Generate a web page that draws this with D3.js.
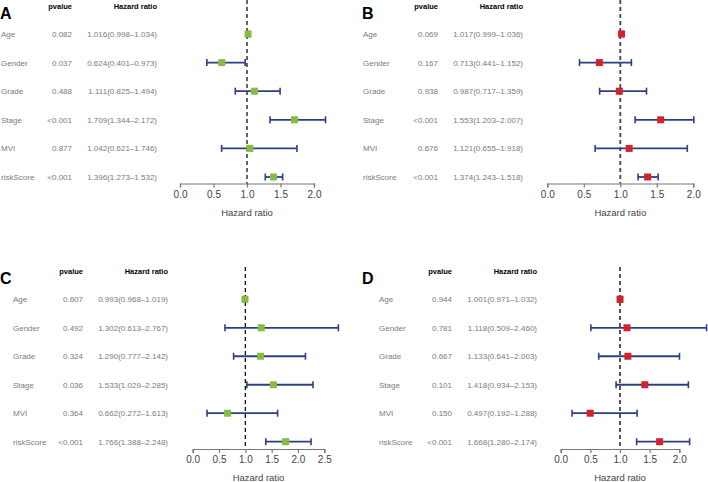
<!DOCTYPE html>
<html><head><meta charset="utf-8">
<script src="https://cdn.jsdelivr.net/npm/d3@7"></script>
<style>body{margin:0;background:#fff}svg{display:block}text{font-family:"Liberation Sans",Arial,Helvetica,sans-serif}</style>
</head><body>
<script>
const categories = ["Age","Gender","Grade","Stage","MVI","riskScore"];

const pA = ["0.082","0.037","0.488","<0.001","0.877","<0.001"];
const hrA = [1.016,0.624,1.111,1.709,1.042,1.396];
const loA = [0.998,0.401,0.825,1.344,0.621,1.273];
const hiA = [1.034,0.973,1.494,2.172,1.746,1.532];

const pB = ["0.069","0.167","0.938","<0.001","0.676","<0.001"];
const hrB = [1.017,0.713,0.987,1.553,1.121,1.374];
const loB = [0.999,0.441,0.717,1.203,0.655,1.243];
const hiB = [1.036,1.152,1.359,2.007,1.918,1.518];

const pC = ["0.607","0.492","0.324","0.036","0.364","<0.001"];
const hrC = [0.993,1.302,1.290,1.533,0.662,1.766];
const loC = [0.968,0.613,0.777,1.029,0.272,1.388];
const hiC = [1.019,2.767,2.142,2.285,1.613,2.248];

const pD = ["0.944","0.781","0.667","0.101","0.150","<0.001"];
const hrD = [1.001,1.118,1.133,1.418,0.497,1.668];
const loD = [0.971,0.509,0.641,0.934,0.192,1.280];
const hiD = [1.032,2.460,2.003,2.153,1.288,2.174];

const ticksAB = [0,0.5,1,1.5,2];
const ticksC = [0,0.5,1,1.5,2,2.5];

const panels = [
  {letter:"A", p:pA, hr:hrA, lo:loA, hi:hiA, color:"#86bd40", dash:"#111", dmax:2, ticks:ticksAB,
   labX:1, pvR:72, hrR:157, headY:9, rowTop:34, rowBot:177, axY:183.5, x0:180, x1:314, lineTop:0},
  {letter:"B", p:pB, hr:hrB, lo:loB, hi:hiB, color:"#d2232a", dash:"#444", dmax:2, ticks:ticksAB,
   labX:363, pvR:438, hrR:523, headY:9, rowTop:34, rowBot:177, axY:183.5, x0:547.3, x1:693.3, lineTop:0},
  {letter:"C", p:pC, hr:hrC, lo:loC, hi:hiC, color:"#86bd40", dash:"#111", dmax:2.5, ticks:ticksC,
   labX:13, pvR:83, hrR:168, headY:274, rowTop:299.3, rowBot:441.7, axY:449, x0:192.7, x1:324.3, lineTop:267},
  {letter:"D", p:pD, hr:hrD, lo:loD, hi:hiD, color:"#d2232a", dash:"#444", dmax:2, ticks:ticksAB,
   labX:379, pvR:452, hrR:537, headY:274, rowTop:299.3, rowBot:441.7, axY:449, x0:560.7, x1:679.3, lineTop:267}
];

const svg = d3.select("body").append("svg").attr("width",708).attr("height",482);
const txtCol = "#7a7a7a";

panels.forEach(P => {
  const g = svg.append("g");
  const x = d3.scaleLinear().domain([0,P.dmax]).range([P.x0,P.x1]);
  const y = d3.scalePoint().domain(categories).range([P.rowTop,P.rowBot]);
  const letterX = P.letter==="A"||P.letter==="C" ? 0 : 362;
  g.append("text").attr("x",letterX).attr("y",P.headY+10).attr("font-size",16).attr("font-weight","bold").text(P.letter);
  g.append("text").attr("x",P.pvR).attr("y",P.headY).attr("text-anchor","end").attr("font-size",7.5).attr("font-weight","bold").text("pvalue");
  g.append("text").attr("x",P.hrR).attr("y",P.headY).attr("text-anchor","end").attr("font-size",7.5).attr("font-weight","bold").text("Hazard ratio");

  categories.forEach((c,i) => {
    const yy = y(c)+3;
    g.append("text").attr("x",P.labX).attr("y",yy).attr("font-size",8).attr("fill",txtCol).text(c);
    g.append("text").attr("x",P.pvR).attr("y",yy).attr("text-anchor","end").attr("font-size",8).attr("fill",txtCol).text(P.p[i]);
    g.append("text").attr("x",P.hrR).attr("y",yy).attr("text-anchor","end").attr("font-size",8).attr("fill",txtCol)
      .text(P.hr[i].toFixed(3)+"("+P.lo[i].toFixed(3)+"\u2013"+P.hi[i].toFixed(3)+")");
  });

  const ax = g.append("g").attr("transform",`translate(0,${P.axY})`)
    .call(d3.axisBottom(x).tickValues(P.ticks).tickFormat(d3.format(".1f")).tickSize(4).tickPadding(3));
  ax.select(".domain").attr("stroke","#777").attr("stroke-width",1.2);
  ax.selectAll(".tick line").attr("stroke","#777").attr("stroke-width",1.2);
  ax.selectAll(".tick text").attr("font-size",10).attr("fill","#444").attr("font-family","Liberation Sans, Arial, sans-serif");
  g.append("text").attr("x",(P.x0+P.x1)/2).attr("y",P.axY+32).attr("text-anchor","middle").attr("font-size",9.5).attr("fill","#444").text("Hazard ratio");

  g.append("line").attr("x1",x(1)).attr("x2",x(1)).attr("y1",P.lineTop).attr("y2",P.axY)
    .attr("stroke",P.dash).attr("stroke-width",P.dash==="#111"?1.3:1.8).attr("stroke-dasharray","4,3");

  categories.forEach((c,i) => {
    const yy = y(c);
    const navy = "#2e3f80";
    g.append("line").attr("x1",x(P.lo[i])).attr("x2",x(P.hi[i])).attr("y1",yy).attr("y2",yy).attr("stroke",navy).attr("stroke-width",1.8);
    [P.lo[i],P.hi[i]].forEach(v => g.append("line").attr("x1",x(v)).attr("x2",x(v)).attr("y1",yy-3.5).attr("y2",yy+3.5).attr("stroke",navy).attr("stroke-width",1.6));
    g.append("rect").attr("x",x(P.hr[i])-3.5).attr("y",yy-3.5).attr("width",7).attr("height",7).attr("fill",P.color);
  });
});
</script>
</body></html>
